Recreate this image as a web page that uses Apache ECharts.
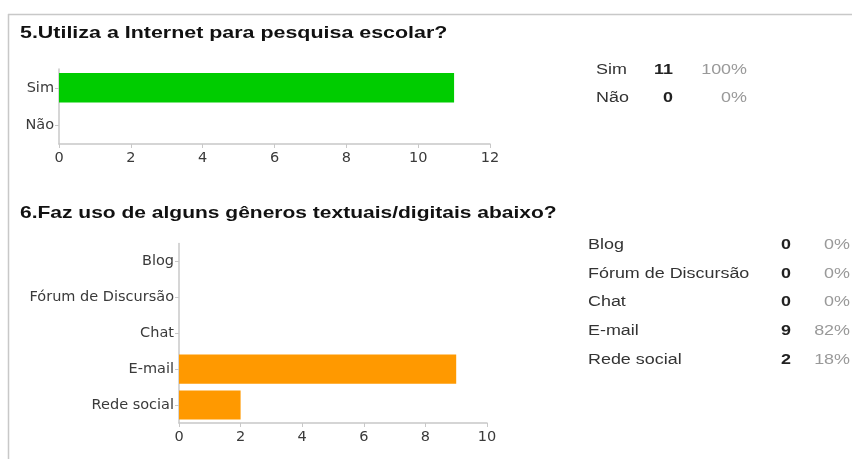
<!DOCTYPE html>
<html><head><meta charset="utf-8">
<script src="https://cdn.jsdelivr.net/npm/echarts@6/dist/echarts.min.js"></script>
<style>html,body{margin:0;padding:0;background:#fff}#c{width:852px;height:459px}</style>
</head><body><div id="c"></div>
<script>
const title1 = "5.Utiliza a Internet para pesquisa escolar?";
const cats1 = ["Sim", "Não"];
const vals1 = [11, 0];
const ticks1 = [0, 2, 4, 6, 8, 10, 12];

const title2 = "6.Faz uso de alguns gêneros textuais/digitais abaixo?";
const cats2 = ["Blog", "Fórum de Discursão", "Chat", "E-mail", "Rede social"];
const vals2 = [0, 0, 0, 9, 2];
const ticks2 = [0, 2, 4, 6, 8, 10];

const FONT = "Liberation Sans, Arial, sans-serif";
const AXFONT = "DejaVu Sans, sans-serif";
const SX = 1.28;
const pct = (arr) => { const t = arr.reduce((a,b)=>a+b,0); return arr.map(v => Math.round(v*100/t) + "%"); };

function txt(x, y, s, font, fill, align, sx) {
  return {type:'text', x:x, y:y, scaleX:sx || SX,
    style:{x:0, y:0, text:s, font:font, fill:fill, textAlign:align || 'left', textVerticalAlign:'middle'}};
}

const graphics = [
  {type:'line', shape:{x1:8, y1:14.5, x2:852, y2:14.5}, style:{stroke:'#c8c8c8', lineWidth:1.5}},
  {type:'line', shape:{x1:8.5, y1:14, x2:8.5, y2:459}, style:{stroke:'#c8c8c8', lineWidth:1.5}},
  txt(20, 33, title1, 'bold 17px ' + FONT, '#111', 'left', 1.26),
  txt(20, 213, title2, 'bold 17px ' + FONT, '#111', 'left', 1.235)
];
const p1 = pct(vals1);
cats1.forEach((c,i) => {
  const y = 70 + i*28.5;
  graphics.push(txt(596, y, c, '14px '+FONT, '#333'));
  graphics.push(txt(673, y, String(vals1[i]), 'bold 14px '+FONT, '#222', 'right'));
  graphics.push(txt(747, y, p1[i], '14px '+FONT, '#999', 'right'));
});
const p2 = pct(vals2);
cats2.forEach((c,i) => {
  const y = 245 + i*28.8;
  graphics.push(txt(588, y, c, '14px '+FONT, '#333'));
  graphics.push(txt(791, y, String(vals2[i]), 'bold 14px '+FONT, '#222', 'right'));
  graphics.push(txt(850, y, p2[i], '14px '+FONT, '#999', 'right'));
});

const axisCommon = {
  axisLine:{show:true, lineStyle:{color:'#c8c8c8', width:1.5}},
  axisTick:{show:true, length:4, lineStyle:{color:'#c8c8c8'}},
  splitLine:{show:false}
};
const catTick = {axisTick:{show:true, alignWithLabel:true, length:4, lineStyle:{color:'#c8c8c8'}}};
const lbl = (m) => ({color:'#3a3a3a', fontSize:14.5, fontFamily:AXFONT, margin:m});

const chart = echarts.init(document.getElementById('c'));
chart.setOption({
  animation:false,
  backgroundColor:'#fff',
  grid:[
    {left:59, right:362, top:69, height:75},
    {left:179, right:365, top:243.5, height:179.5}
  ],
  xAxis:[
    Object.assign({type:'value', gridIndex:0, min:ticks1[0], max:ticks1[ticks1.length-1], interval:2,
      axisLabel:lbl(7)}, axisCommon),
    Object.assign({type:'value', gridIndex:1, min:ticks2[0], max:ticks2[ticks2.length-1], interval:2,
      axisLabel:lbl(7)}, axisCommon)
  ],
  yAxis:[
    Object.assign({type:'category', gridIndex:0, data:cats1, inverse:true, axisLabel:lbl(5)}, axisCommon, catTick),
    Object.assign({type:'category', gridIndex:1, data:cats2, inverse:true, axisLabel:lbl(5)}, axisCommon, catTick)
  ],
  series:[
    {type:'bar', xAxisIndex:0, yAxisIndex:0, data:vals1, barCategoryGap:'21%', itemStyle:{color:'#00cc00'}},
    {type:'bar', xAxisIndex:1, yAxisIndex:1, data:vals2, barCategoryGap:'19%', itemStyle:{color:'#ff9900'}}
  ],
  graphic: graphics
});
</script></body></html>
